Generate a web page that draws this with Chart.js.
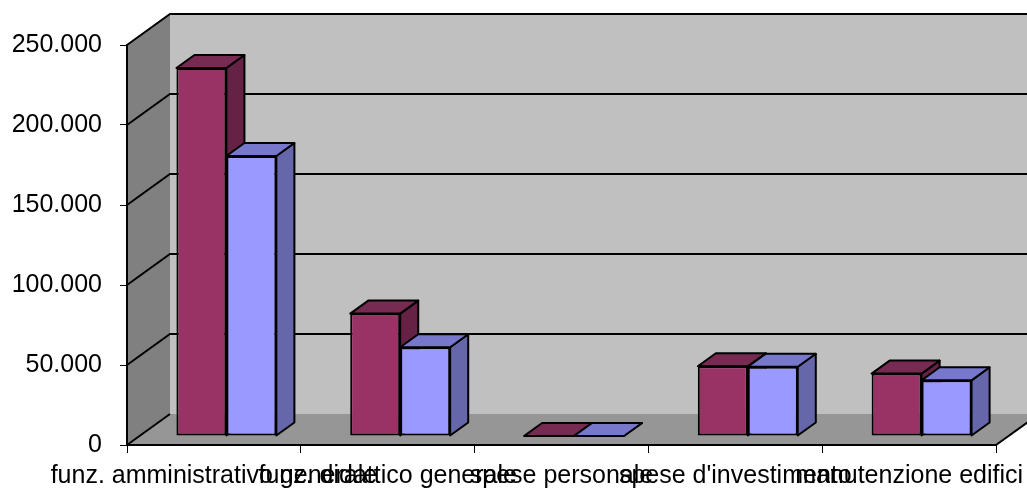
<!DOCTYPE html>
<html lang="it">
<head>
    <meta charset="UTF-8">
    <title>Programma annuale</title>
    <script src="https://cdn.jsdelivr.net/npm/chart.js"></script>
    <style>
        body {
            margin: 0;
            background: #fff;
        }
        .wrap {
            width: 1027px;
            height: 488px;
        }
    </style>
</head>
<body>
    <div class="wrap"><canvas id="barChart"></canvas></div>

    <script>
        const categories = [
            'funz. amministrativo generale',
            'funz. didattico generale',
            'spese personale',
            "spese d'investimento",
            'manutenzione edifici'
        ];
        const serie1 = [230000, 76500, 0, 43600, 39000];
        const serie2 = [175000, 55500, 0, 43300, 34800];
        const yTicks = [0, 50000, 100000, 150000, 200000, 250000];

        // 3d look, like the old office charts
        const depth = { dx: 43, dy: -31 };
        const barFront = 0.29, barBack = 0.71;
        const faces = [
            { top: '#772a52', side: '#662244' },
            { top: '#7777cc', side: '#6666aa' }
        ];
        const labelFont = { family: "'Liberation Sans', Arial, sans-serif", size: 25 };

        function fmt(v) {
            return String(v).replace(/\B(?=(\d{3})+(?!\d))/g, '.');
        }

        function poly(ctx, pts, fill) {
            ctx.beginPath();
            ctx.moveTo(pts[0][0], pts[0][1]);
            for (let i = 1; i < pts.length; i++) ctx.lineTo(pts[i][0], pts[i][1]);
            ctx.closePath();
            ctx.fillStyle = fill;
            ctx.fill();
            ctx.stroke();
        }

        const walls3d = {
            id: 'walls3d',
            beforeDraw(chart) {
                const ctx = chart.ctx;
                const { left, right, top, bottom } = chart.chartArea;
                const { dx, dy } = depth;
                const y = chart.scales.y;
                ctx.save();
                ctx.fillStyle = '#c0c0c0';
                ctx.fillRect(left + dx, top + dy, right - left, bottom - top);
                ctx.fillStyle = '#808080';
                ctx.beginPath();
                ctx.moveTo(left, bottom);
                ctx.lineTo(left, top);
                ctx.lineTo(left + dx, top + dy);
                ctx.lineTo(left + dx, bottom + dy);
                ctx.closePath();
                ctx.fill();
                ctx.fillStyle = '#969696';
                ctx.beginPath();
                ctx.moveTo(left, bottom);
                ctx.lineTo(right, bottom);
                ctx.lineTo(right + dx, bottom + dy);
                ctx.lineTo(left + dx, bottom + dy);
                ctx.closePath();
                ctx.fill();

                ctx.strokeStyle = '#000';
                ctx.lineWidth = 2;
                y.ticks.forEach(t => {
                    const py = y.getPixelForValue(t.value);
                    ctx.beginPath();
                    ctx.moveTo(left, py);
                    ctx.lineTo(left + dx, py + dy);
                    if (t.value > 0) ctx.lineTo(right + dx, py + dy);
                    ctx.stroke();
                });
                ctx.beginPath();
                ctx.moveTo(right, bottom);
                ctx.lineTo(right + dx, bottom + dy);
                ctx.stroke();
                ctx.restore();
            },
            beforeDatasetsDraw(chart) {
                const ctx = chart.ctx;
                const { dx, dy } = depth;
                const bdx = (barBack - barFront) * dx, bdy = (barBack - barFront) * dy;
                ctx.save();
                ctx.translate(barFront * dx, barFront * dy);
                ctx.strokeStyle = '#000';
                ctx.lineWidth = 2;
                ctx.lineJoin = 'round';
                categories.forEach((c, i) => {
                    chart.data.datasets.forEach((ds, d) => {
                        const el = chart.getDatasetMeta(d).data[i];
                        const { x, y, base, width } = el.getProps(['x', 'y', 'base', 'width'], true);
                        const xl = x - width / 2, xr = x + width / 2;
                        poly(ctx, [[xr, y], [xr + bdx, y + bdy], [xr + bdx, base + bdy], [xr, base]], faces[d].side);
                        poly(ctx, [[xl, y], [xr, y], [xr + bdx, y + bdy], [xl + bdx, y + bdy]], faces[d].top);
                    });
                });
            },
            afterDatasetsDraw(chart) {
                chart.ctx.restore();
            }
        };

        new Chart(document.getElementById('barChart'), {
            type: 'bar',
            data: {
                labels: categories,
                datasets: [{
                    label: 'serie 1',
                    data: serie1,
                    backgroundColor: '#993366',
                    borderColor: '#000',
                    borderWidth: 2,
                    borderSkipped: false,
                    clip: false
                }, {
                    label: 'serie 2',
                    data: serie2,
                    backgroundColor: '#9999ff',
                    borderColor: '#000',
                    borderWidth: 2,
                    borderSkipped: false,
                    clip: false
                }]
            },
            options: {
                responsive: true,
                maintainAspectRatio: false,
                animation: false,
                categoryPercentage: 0.575,
                barPercentage: 1,
                layout: { padding: { left: 0, right: 31, top: 45, bottom: 0 } },
                plugins: { legend: { display: false }, tooltip: { enabled: false } },
                scales: {
                    x: {
                        grid: { offset: true, drawOnChartArea: false, tickLength: 8, color: '#000' },
                        border: { color: '#000', width: 2 },
                        ticks: {
                            autoSkip: false, maxRotation: 0, minRotation: 0, padding: 8,
                            color: '#000', font: labelFont
                        },
                        afterFit(scale) {
                            scale.height = 43;
                            scale.paddingLeft = 0;
                            scale.paddingRight = 0;
                        }
                    },
                    y: {
                        min: 0,
                        max: 250000,
                        afterBuildTicks(scale) { scale.ticks = yTicks.map(v => ({ value: v })); },
                        grid: { drawOnChartArea: false, tickLength: 7, color: '#000' },
                        border: { color: '#000', width: 2 },
                        ticks: {
                            padding: 18, color: '#000',
                            font: labelFont,
                            callback: v => fmt(v)
                        },
                        afterFit(scale) { scale.width = 127; }
                    }
                }
            },
            plugins: [walls3d]
        });
    </script>
</body>
</html>
